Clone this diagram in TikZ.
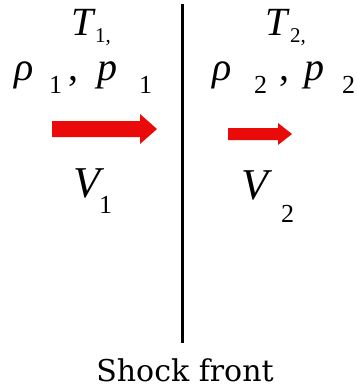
\documentclass[tikz,border=0pt]{standalone}
\usepackage{fontspec}
\setmainfont{Liberation Serif}
\newfontfamily\labelfont{DejaVu Serif}
\definecolor{flowred}{RGB}{235,10,10}
\begin{document}
\begin{tikzpicture}[x=1pt,y=-1pt,
  big/.style={inner sep=0pt,anchor=base west,font=\fontsize{40}{44}\selectfont\itshape},
  huge/.style={inner sep=0pt,anchor=base west,font=\fontsize{44}{48}\selectfont\itshape},
  sub/.style={inner sep=0pt,anchor=base west,font=\fontsize{26}{30}\selectfont},
  small sub/.style={inner sep=0pt,anchor=base west,font=\fontsize{21}{24}\selectfont},
  comma/.style={inner sep=0pt,anchor=base west,font=\fontsize{40}{44}\selectfont},
  flow/.style={fill=flowred, draw=none}]
\useasboundingbox (0,0) rectangle (358,392);
% shock front line
\coordinate (top) at (182.5,4);
\coordinate (bot) at (182.5,343);
\draw[line width=3pt] (top) -- (bot);
\node[inner sep=0pt,anchor=base,font=\labelfont\fontsize{30}{33}\selectfont] (lbl) at (185,381) {Shock front};
% left state
\node[big] (T1) at (71,35) {T};
\node[small sub] (T1s) at (95,42) {1,};
\node[big] (r1) at (14,80) {ρ};
\node[sub] (r1s) at (49,93) {1};
\node[comma] (c1) at (68,80) {,};
\node[big] (p1) at (97,80) {p};
\node[sub] (p1s) at (139,93) {1};
\fill[flow] (52,121) -- (140,121) -- (140,114) -- (157,129) -- (140,144) -- (140,137) -- (52,137) -- cycle;
\node[huge] (V1) at (73,197) {V};
\node[sub] (V1s) at (99,213) {1};
% right state
\node[big] (T2) at (265,35) {T};
\node[small sub] (T2s) at (290,42) {2,};
\node[big] (r2) at (212,80) {ρ};
\node[sub] (r2s) at (254,93) {2};
\node[comma] (c2) at (279,80) {,};
\node[big] (p2) at (304,80) {p};
\node[sub] (p2s) at (342,93) {2};
\fill[flow] (228,128) -- (278,128) -- (278,123) -- (292,134) -- (278,145) -- (278,140) -- (228,140) -- cycle;
\node[huge] (V2) at (241,199) {V};
\node[sub] (V2s) at (281,222) {2};
\end{tikzpicture}
\end{document}
